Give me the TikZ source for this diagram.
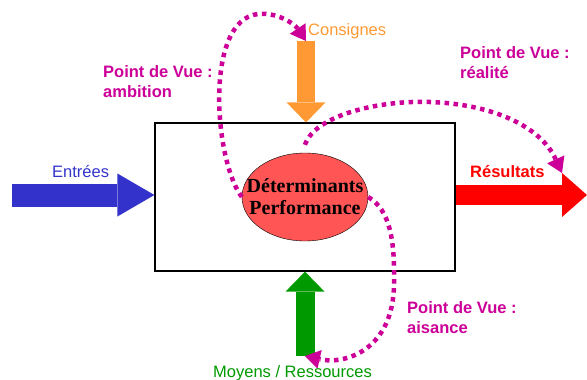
\documentclass[tikz,border=0pt]{standalone}
\usepackage{fontspec}
\setmainfont{Liberation Serif}
\setsansfont{Liberation Sans}
\usetikzlibrary{positioning}
\usetikzlibrary{shapes.geometric}
\usetikzlibrary{arrows.meta}
\definecolor{cbleu}{HTML}{3333CC}
\definecolor{corange}{HTML}{FF9933}
\definecolor{crouge}{HTML}{FF0000}
\definecolor{cvert}{HTML}{009900}
\definecolor{cmagenta}{HTML}{CC0099}
\definecolor{cellipse}{HTML}{FF5555}
\tikzset{x=1pt, y=-1pt,
label text/.style={ % Labels of the block arrows
font=\sffamily\fontsize{16.5}{19.5}\selectfont,
anchor=base west,
inner sep=0pt},
vue text/.style={ % Labels of the points of view, placed by their last line
label text,
font=\sffamily\bfseries\fontsize{16.5}{19.5}\selectfont,
text=cmagenta,
align=left},
flux/.style n args={4}{ % Block arrow: colour, shaft, head length, head width
draw=#1,
line width=#2,
-{Triangle[length=#3, width=#4, line width=0pt]}},
vue/.style={ % Dotted arrows of the points of view
draw=cmagenta,
line width=4.5pt,
dash pattern=on 4.5pt off 4.5pt,
-{Triangle[length=15pt, width=19pt, line width=0pt]}}}

\begin{document}
\begin{tikzpicture}
\useasboundingbox (0,0) rectangle (587,380);
\node[draw, line width=1.2pt, minimum width=300pt, minimum height=148pt, inner sep=0pt] (systeme) at (305,197) {};
\coordinate (entreesTail) at (12,195);
\coordinate (consignesTail) at (306,41);
\coordinate (resultatsTip) at (587,195);
\coordinate (resultatsHead) at (562,173);
\coordinate (moyensTail) at (305,356);
% block arrows
\draw[flux={cbleu}{23pt}{37pt}{43pt}] (entreesTail) -- (systeme.west |- entreesTail);
\draw[flux={corange}{18pt}{20pt}{39pt}] (consignesTail) -- (consignesTail |- systeme.north);
\draw[flux={crouge}{20pt}{25pt}{44pt}] (systeme.east |- resultatsTip) -- (resultatsTip);
\draw[flux={cvert}{19pt}{20pt}{39pt}] (moyensTail) -- (moyensTail |- systeme.south);
\node[ellipse, draw, fill=cellipse, minimum width=126pt, minimum height=88pt,
  inner xsep=-16pt, inner ysep=6pt,
  align=center, font=\bfseries\fontsize{20}{22}\selectfont] (perf) at (systeme.center) {Déterminants\\Performance};
% points of view
\draw[vue] (perf.west) .. controls (214,160) and (204,20) .. (258,14)
  .. controls (280,12) and (296,26) .. (consignesTail);
\draw[vue] ([yshift=8pt]perf.north) .. controls (315,115) and (380,100) .. (430,102)
  .. controls (490,104) and (540,125) .. (resultatsHead);
\draw[vue] (perf.east) .. controls (390,210) and (395,240) .. (394,285)
  .. controls (393,350) and (345,365) .. (moyensTail);
% labels
\node[label text, text=cbleu] (entrees) at (52,177) {Entrées};
\node[label text, text=corange] (consignes) at (308,35) {Consignes};
\node[label text, text=crouge, font=\sffamily\bfseries\fontsize{16.5}{19.5}\selectfont] (resultats) at (470,177) {Résultats};
\node[label text, text=cvert] (moyens) at (213,377) {Moyens / Ressources};
\node[vue text] (ambition) at (103,97) {Point de Vue :\\ambition};
\node[vue text] (realite) at (460,78) {Point de Vue :\\réalité};
\node[vue text] (aisance) at (407,333) {Point de Vue :\\aisance};
\end{tikzpicture}
\end{document}
